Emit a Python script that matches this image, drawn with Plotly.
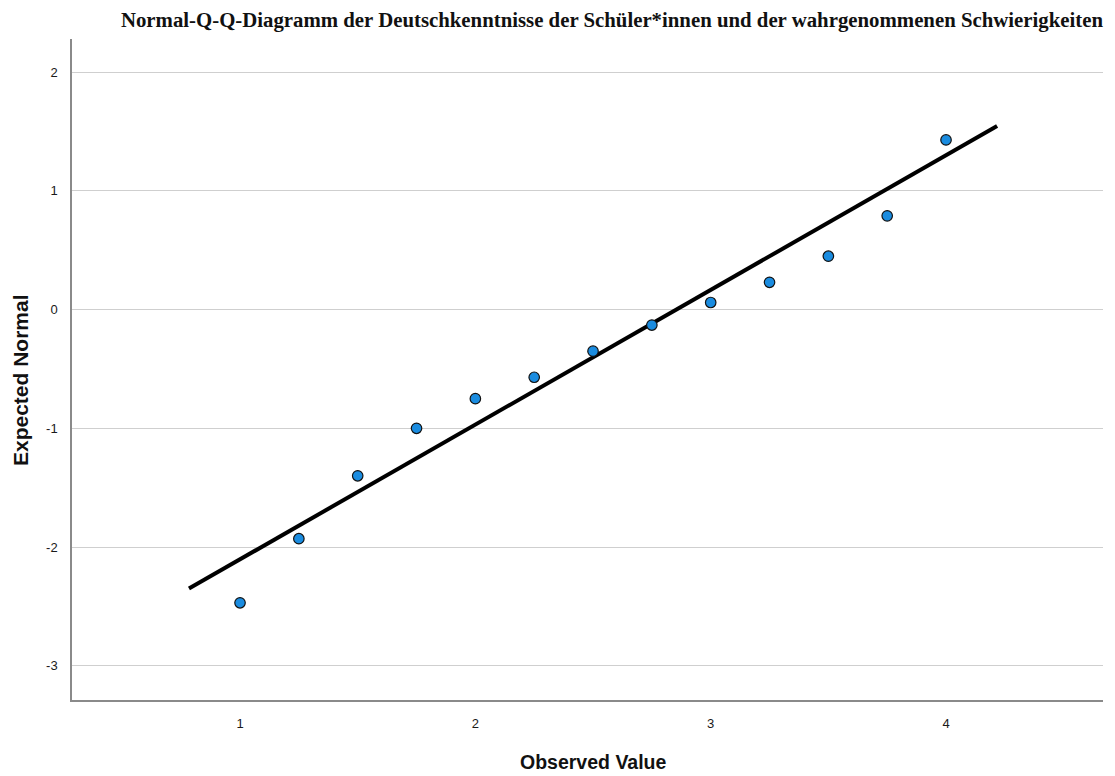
import plotly.graph_objects as go

observed = [1.0, 1.25, 1.5, 1.75, 2.0, 2.25, 2.5, 2.75, 3.0, 3.25, 3.5, 3.75, 4.0]
expected = [-2.47, -1.93, -1.40, -1.00, -0.75, -0.57, -0.35, -0.13, 0.06, 0.23, 0.45, 0.79, 1.43]
line_x = [0.783, 4.217]
line_y = [-2.35, 1.547]
x_ticks = [1, 2, 3, 4]
y_ticks = [-3, -2, -1, 0, 1, 2]
y_ticktext = ["-3", "-2", "-1", "0", "1", "2"]

# the page body adds an 8px offset, so the figure is 8px smaller than the window
W, H = 1107, 768
ML, MR, MT, MB = 64, 12, 31, 76
PW, PH = W - ML - MR, H - MT - MB

fig = go.Figure()
fig.add_trace(go.Scatter(x=line_x, y=line_y, mode="lines",
                         line=dict(color="black", width=4), hoverinfo="skip"))
fig.add_trace(go.Scatter(x=observed, y=expected, mode="markers",
                         marker=dict(symbol="circle", size=10.5, color="#1a8ce0",
                                     line=dict(color="#111111", width=1.2))))

sans = "Liberation Sans Narrow, Liberation Sans, Arial"
tickfont = dict(family=sans, size=13, color="#1a1a1a")
fig.update_layout(
    width=W, height=H,
    margin=dict(l=ML, r=MR, t=MT, b=MB),
    paper_bgcolor="white", plot_bgcolor="white",
    showlegend=False,
    title=dict(text="<b>Normal-Q-Q-Diagramm der Deutschkenntnisse der Schüler*innen und der wahrgenommenen Schwierigkeiten</b>",
               font=dict(family="Liberation Serif, Times New Roman", size=20.8, color="#111"),
               x=(612 - 8) / W, xanchor="center", xref="container",
               y=1 - 12 / H, yanchor="middle", yref="container"),
    xaxis=dict(range=[0.286, 4.667], tickvals=x_ticks, showgrid=False, zeroline=False,
               showline=True, linecolor="#8a8a8a", linewidth=1.5, ticks="", automargin=False,
               ticklabelstandoff=11, tickfont=tickfont),
    yaxis=dict(range=[-3.289, 2.28], tickvals=y_ticks, ticktext=y_ticktext, showgrid=True,
               gridcolor="#cfcfcf", gridwidth=1.3, automargin=False,
               zeroline=False, showline=True, linecolor="#8a8a8a", linewidth=1.5, ticks="",
               ticklabelstandoff=10, tickfont=tickfont),
    annotations=[
        dict(text="<b>Observed Value</b>", xref="paper", yref="paper",
             x=(585 - ML) / PW, y=1 - (754 - MT) / PH, xanchor="center", yanchor="middle",
             showarrow=False, font=dict(family=sans, size=19.5, color="#111")),
        dict(text="<b>Expected Normal</b>", xref="paper", yref="paper", textangle=-90,
             x=(12 - ML) / PW, y=1 - (372 - MT) / PH, xanchor="center", yanchor="middle",
             showarrow=False, font=dict(family=sans, size=21, color="#111")),
    ],
)

fig.write_html("out.html")
